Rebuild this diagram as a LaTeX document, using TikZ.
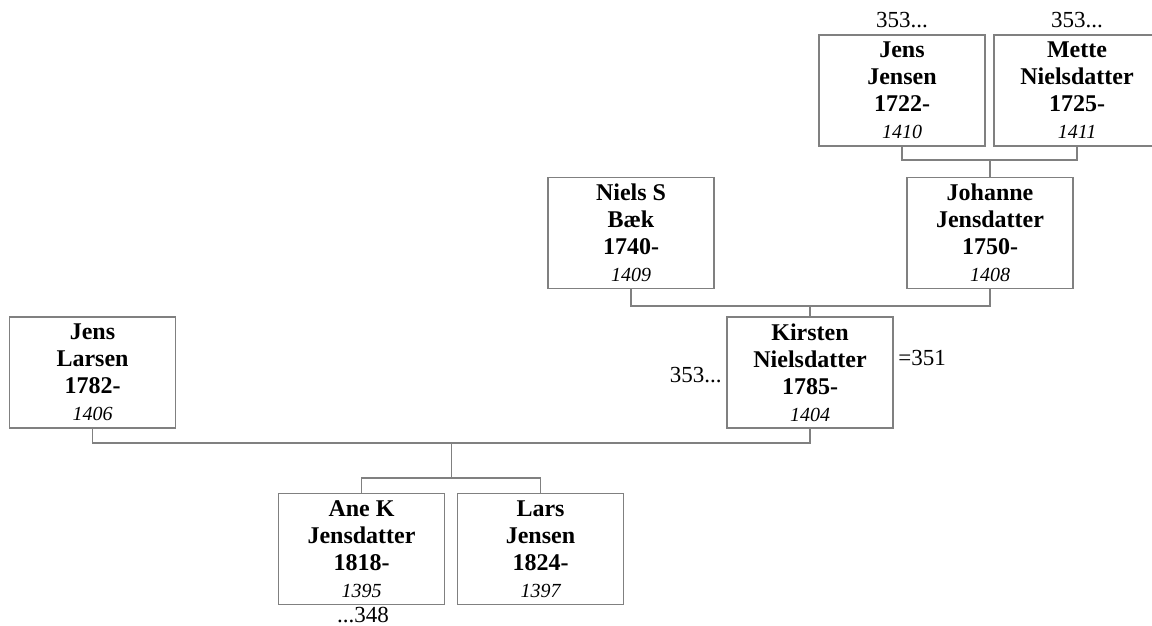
\documentclass[tikz,border=0pt]{standalone}
\usepackage{fontspec}
\setmainfont{Liberation Serif}
\usepackage{tikz}
\usetikzlibrary{positioning}

\newcommand{\famtext}[4]{{\bfseries #1}\\{\bfseries #2}\\{\bfseries #3}\\{\fontsize{10}{13.5}\selectfont\itshape #4}}

\begin{document}
\begin{tikzpicture}[x=0.5pt,y=-0.5pt,
				pers/.style={draw=black!50,line width=0.75pt,fill=white,
					minimum width=83pt,minimum height=55.5pt,inner sep=0pt,
					align=center,font=\fontsize{12}{13.5}\selectfont},
				conn/.style={draw=black!50,line width=0.75pt},
				lbl/.style={inner sep=0pt,font=\fontsize{11.5}{13}\selectfont}]

				\useasboundingbox (0,0) rectangle (1152,626);

				%%%%%%%%%%%%%%%%  grandparents  %%%%%%%%%%%%%%%%
				\node[pers] (jensJ) at (902,90.5) {\famtext{Jens}{Jensen}{1722-}{1410}};
				\node[pers] (mette) at (1077,90.5) {\famtext{Mette}{Nielsdatter}{1725-}{1411}};
				\node[lbl,anchor=base] (jensJup) at (902,28) {353...};
				\node[lbl,anchor=base] (metteup) at (1077,28) {353...};

				%%%%%%%%%%%%%%%%  parents of Kirsten  %%%%%%%%%%%%%%%%
				\node[pers] (niels) at (631,233) {\famtext{Niels S}{Bæk}{1740-}{1409}};
				\node[pers] (johanne) at (990,233) {\famtext{Johanne}{Jensdatter}{1750-}{1408}};
				\coordinate (jm) at (990,160);
				\draw[conn] (jensJ.south) |- (jm) -| (mette.south);
				\draw[conn] (jm) -- (johanne.north);

				%%%%%%%%%%%%%%%%  the couple  %%%%%%%%%%%%%%%%
				\node[pers] (jensL) at (92.5,372.5) {\famtext{Jens}{Larsen}{1782-}{1406}};
				\node[pers] (kirsten) at (810,372.5) {\famtext{Kirsten}{Nielsdatter}{1785-}{1404}};
				\node[lbl,anchor=base east] (kirstenl) at (722,382) {353...};
				\node[lbl,anchor=base west] (kirstenr) at (898,365) {=351};
				\coordinate (nj) at (810,306);
				\draw[conn] (niels.south) |- (nj) -| (johanne.south);
				\draw[conn] (nj) -- (kirsten.north);

				%%%%%%%%%%%%%%%%  children  %%%%%%%%%%%%%%%%
				\node[pers] (ane) at (361.5,549) {\famtext{Ane K}{Jensdatter}{1818-}{1395}};
				\node[pers] (lars) at (540.5,549) {\famtext{Lars}{Jensen}{1824-}{1397}};
				\node[lbl,anchor=base] (anedown) at (363,622) {...348};
				\coordinate (jk) at (451.5,443);
				\coordinate (al) at (451.5,478);
				\draw[conn] (jensL.south) |- (jk) -| (kirsten.south);
				\draw[conn] (jk) -- (al);
				\draw[conn] (ane.north) |- (al) -| (lars.north);
			\end{tikzpicture}
\end{document}
